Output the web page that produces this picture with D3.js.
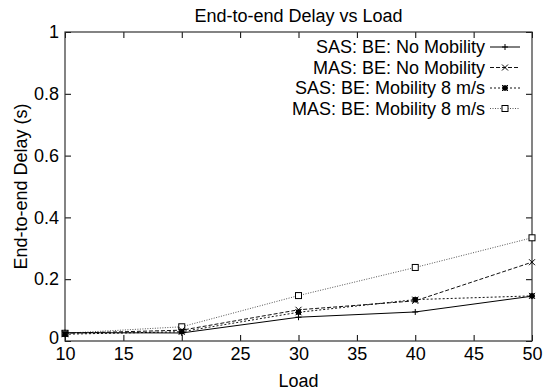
<!DOCTYPE html>
<html>
<head>
<meta charset="utf-8">
<script src="https://cdnjs.cloudflare.com/ajax/libs/d3/7.8.5/d3.min.js"></script>
<style>
  body { margin: 0; background: #fff; }
  text { font-family: "Liberation Sans", Arial, sans-serif; fill: #000; }
</style>
</head>
<body>
<div class="chart"></div>
<script>
// data
var loads = [10, 20, 30, 40, 50];
var sas_no_mobility = [0.027, 0.026, 0.077, 0.094, 0.145];
var mas_no_mobility = [0.025, 0.035, 0.101, 0.130, 0.255];
var sas_mobility = [0.022, 0.030, 0.093, 0.134, 0.146];
var mas_mobility = [0.025, 0.046, 0.147, 0.238, 0.334];
var x_ticks = [10, 15, 20, 25, 30, 35, 40, 45, 50];
var y_ticks = [0, 0.2, 0.4, 0.6, 0.8, 1];
var series_names = ["SAS: BE: No Mobility", "MAS: BE: No Mobility",
                    "SAS: BE: Mobility 8 m/s", "MAS: BE: Mobility 8 m/s"];

var width = 543, height = 391;
var margin = {top: 32, right: 11, bottom: 50, left: 65};
var inner_width = width - margin.left - margin.right;
var inner_height = height - margin.top - margin.bottom;
var font_size = "18px";

var svg = d3.select(".chart").append("svg")
  .attr("width", width)
  .attr("height", height);

var g = svg.append("g")
  .attr("transform", "translate(" + margin.left + "," + margin.top + ")");

var x_scale = d3.scaleLinear().domain([10, 50]).range([0, inner_width]);
var y_scale = d3.scaleLinear().domain([0, 1]).range([inner_height, 0]);

// inward ticks on all four sides
g.append("g").attr("transform", "translate(0," + inner_height + ")")
  .call(d3.axisBottom(x_scale).tickValues(x_ticks).tickSizeInner(-6).tickSizeOuter(0).tickPadding(6))
  .call(a => a.select(".domain").remove())
  .call(a => a.selectAll("text").style("font-size", font_size));
g.append("g")
  .call(d3.axisTop(x_scale).tickValues(x_ticks).tickSizeInner(-6).tickSizeOuter(0).tickFormat(""))
  .call(a => a.select(".domain").remove());
g.append("g")
  .call(d3.axisLeft(y_scale).tickValues(y_ticks).tickSizeInner(-6).tickSizeOuter(0).tickPadding(6)
    .tickFormat(d3.format("~g")))
  .call(a => a.select(".domain").remove())
  .call(a => a.selectAll("text").style("font-size", font_size))
  // the "0" sits a little higher so it clears the "10" below it
  .call(a => a.selectAll("text").filter(d => d === 0).attr("dy", "0.12em"));
g.append("g").attr("transform", "translate(" + inner_width + ",0)")
  .call(d3.axisRight(y_scale).tickValues(y_ticks).tickSizeInner(-6).tickSizeOuter(0).tickFormat(""))
  .call(a => a.select(".domain").remove());

g.append("rect")
  .attr("width", inner_width).attr("height", inner_height)
  .attr("fill", "none").attr("stroke", "#333").attr("stroke-width", 1.2);

var series = [
  {name: series_names[0], values: sas_no_mobility, dash: null, color: "#000", marker: "plus"},
  {name: series_names[1], values: mas_no_mobility, dash: "4,2", color: "#111", marker: "cross"},
  {name: series_names[2], values: sas_mobility, dash: "2,2", color: "#111", marker: "star"},
  {name: series_names[3], values: mas_mobility, dash: "1,1.5", color: "#555", marker: "square"}
];

var line = d3.line()
  .x((d, i) => x_scale(loads[i]))
  .y(d => y_scale(d));

function draw_marker(sel, type, cx, cy) {
  var s = 3;
  if (type == "plus") {
    sel.append("path").attr("d", "M" + (cx - s) + "," + cy + "H" + (cx + s) + "M" + cx + "," + (cy - s) + "V" + (cy + s))
      .attr("stroke", "#000").attr("stroke-width", 1);
  } else if (type == "cross") {
    sel.append("path").attr("d", "M" + (cx - s) + "," + (cy - s) + "L" + (cx + s) + "," + (cy + s) +
      "M" + (cx - s) + "," + (cy + s) + "L" + (cx + s) + "," + (cy - s))
      .attr("stroke", "#000").attr("stroke-width", 1);
  } else if (type == "star") {
    sel.append("rect").attr("x", cx - 2.5).attr("y", cy - 2.5).attr("width", 5).attr("height", 5).attr("fill", "#000");
    sel.append("path").attr("d", "M" + (cx - s) + "," + (cy - s) + "L" + (cx + s) + "," + (cy + s) +
      "M" + (cx - s) + "," + (cy + s) + "L" + (cx + s) + "," + (cy - s) +
      "M" + (cx - s) + "," + cy + "H" + (cx + s) + "M" + cx + "," + (cy - s) + "V" + (cy + s))
      .attr("stroke", "#000").attr("stroke-width", 1);
  } else {
    sel.append("rect").attr("x", cx - 3).attr("y", cy - 3).attr("width", 6).attr("height", 6)
      .attr("fill", "#fff").attr("stroke", "#000").attr("stroke-width", 1);
  }
}

series.slice().reverse().forEach(function (s) {
  g.append("path")
    .datum(s.values)
    .attr("d", line)
    .attr("fill", "none")
    .attr("stroke", s.color)
    .attr("stroke-width", 1)
    .attr("stroke-dasharray", s.dash);
  var mg = g.append("g");
  s.values.forEach((v, i) => draw_marker(mg, s.marker, x_scale(loads[i]), y_scale(v)));
});

// legend
var legend = g.append("g");
series.forEach(function (s, i) {
  var ly = 15 + i * 20.5;
  legend.append("text")
    .attr("x", 420).attr("y", ly).attr("dy", "0.35em")
    .attr("text-anchor", "end")
    .style("font-size", font_size)
    .text(s.name);
  legend.append("line")
    .attr("x1", 425).attr("x2", 455).attr("y1", ly).attr("y2", ly)
    .attr("stroke", s.color).attr("stroke-width", 1).attr("stroke-dasharray", s.dash);
  draw_marker(legend, s.marker, 440, ly);
});

// titles
svg.append("text")
  .attr("x", margin.left + inner_width / 2).attr("y", 22)
  .attr("text-anchor", "middle").style("font-size", font_size)
  .text("End-to-end Delay vs Load");
svg.append("text")
  .attr("x", margin.left + inner_width / 2).attr("y", 387)
  .attr("text-anchor", "middle").style("font-size", font_size)
  .text("Load");
svg.append("text")
  .attr("transform", "translate(27," + (margin.top + inner_height / 2) + ") rotate(-90)")
  .attr("text-anchor", "middle").style("font-size", font_size)
  .text("End-to-end Delay (s)");
</script>
</body>
</html>
